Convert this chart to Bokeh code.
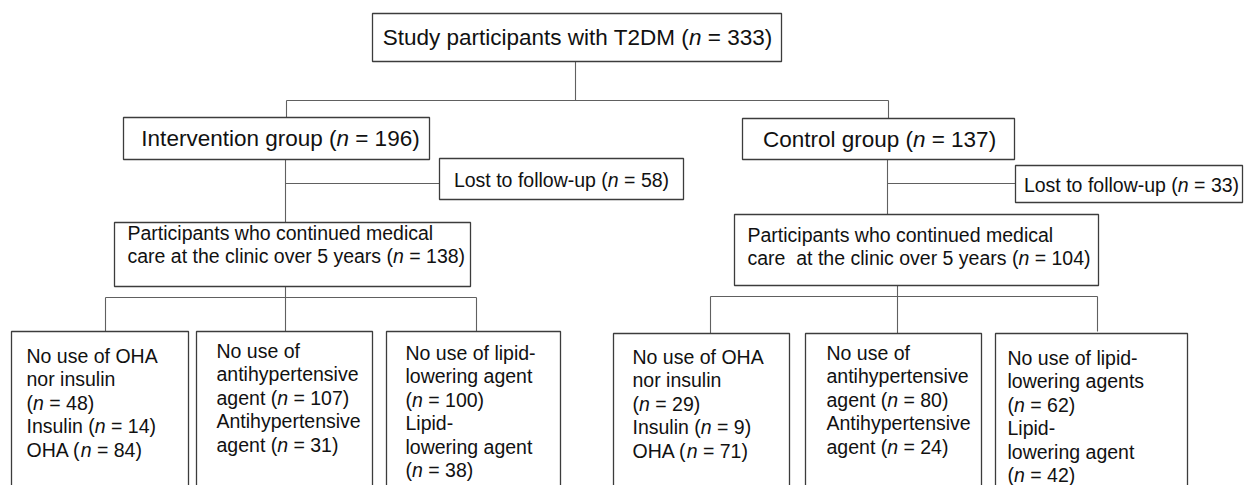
import re
from bokeh.plotting import figure
from bokeh.models import ColumnDataSource, Range1d
from bokeh.core.properties import value
from bokeh.embed import file_html
from bokeh.resources import INLINE

# ---------------- data (participant counts) ----------------
total_n = 333
group_labels = ["Intervention group", "Control group"]
group_n = [196, 137]
lost_n = [58, 33]
continued_n = [138, 104]
no_oha_insulin_n = [48, 29]
insulin_n = [14, 9]
oha_n = [84, 71]
no_antihyp_n = [107, 80]
antihyp_n = [31, 24]
no_lipid_n = [100, 62]
lipid_n = [38, 42]

# ---------------- labels built from data ----------------
top_label = [f"Study participants with T2DM (*n* = {total_n})"]
group_text = [[f"{group_labels[i]} (*n* = {group_n[i]})"] for i in range(2)]
lost_text = [[f"Lost to follow-up (*n* = {lost_n[i]})"] for i in range(2)]
cont_text = [
    ["Participants who continued medical", f"care at the clinic over 5 years (*n* = {continued_n[0]})"],
    ["Participants who continued medical", f"care  at the clinic over 5 years (*n* = {continued_n[1]})"],
]
gluc_text = [["No use of OHA", "nor insulin", f"(*n* = {no_oha_insulin_n[i]})",
              f"Insulin (*n* = {insulin_n[i]})", f"OHA (*n* = {oha_n[i]})"] for i in range(2)]
hyp_text = [["No use of", "antihypertensive", f"agent (*n* = {no_antihyp_n[i]})",
             "Antihypertensive", f"agent (*n* = {antihyp_n[i]})"] for i in range(2)]
lip_text = [["No use of lipid-", "lowering agent", f"(*n* = {no_lipid_n[0]})",
             "Lipid-", "lowering agent", f"(*n* = {lipid_n[0]})"],
            ["No use of lipid-", "lowering agents", f"(*n* = {no_lipid_n[1]})",
             "Lipid-", "lowering agent", f"(*n* = {lipid_n[1]})"]]

# ---------------- layout (page pixel coordinates) ----------------
W_PX, H_PX = 1245, 485
BIG, SMALL = 22.5, 19.5
LH = 23.5

# Arial / Liberation Sans advance widths (per 1000 em)
AW = {' ': 278, '(': 333, ')': 333, '=': 584, '-': 333,
      'A': 667, 'C': 722, 'D': 722, 'H': 722, 'I': 278, 'L': 556, 'M': 833, 'N': 722,
      'O': 778, 'P': 667, 'S': 667, 'T': 611,
      'a': 556, 'b': 556, 'c': 500, 'd': 556, 'e': 556, 'f': 278, 'g': 556, 'h': 556,
      'i': 222, 'j': 222, 'k': 500, 'l': 222, 'm': 833, 'n': 556, 'o': 556, 'p': 556,
      'q': 556, 'r': 333, 's': 500, 't': 278, 'u': 556, 'v': 500, 'w': 722, 'x': 500,
      'y': 500, 'z': 500}


def twidth(s, size):
    return sum(AW.get(c, 556) for c in s) * size / 1000.0


boxes = []      # (left, right, top, bottom)
texts = dict(x=[], y=[], text=[], style=[], size=[])


def add_line(line, x, yc, size, align="left"):
    parts = line.split("*")
    total = sum(twidth(p, size) for p in parts)
    cx = x - total / 2 if align == "center" else x
    for k, part in enumerate(parts):
        # SVG collapses runs of spaces: place each word-run separately
        for m in re.finditer(r"\S+(?: \S+)*", part):
            texts["x"].append(cx + twidth(part[:m.start()], size))
            texts["y"].append(yc)
            texts["text"].append(m.group(0))
            texts["style"].append("italic" if k % 2 else "normal")
            texts["size"].append(f"{size}px")
        cx += twidth(part, size)


def add_block(lines, x, y0, size, align="left", lh=LH):
    for j, ln in enumerate(lines):
        add_line(ln, x, y0 + j * lh, size, align)


# top box
boxes.append((372, 781, 13, 61))
add_block(top_label, 577, 37, BIG, "center")

# group boxes
grp_box = [(123, 429, 117, 159), (742, 1014, 118, 159)]
grp_cx = [280, 879]
lost_box = [(439, 683, 158, 199), (1015, 1242, 165, 202)]
lost_cx = [561, 1131]
cont_box = [(114, 470, 222, 286), (734, 1098, 214, 285)]
cont_x = [127, 747]
cont_y = [232, 234]
for i in range(2):
    boxes.append(grp_box[i])
    add_block(group_text[i], grp_cx[i], (grp_box[i][2] + grp_box[i][3]) / 2, BIG, "center")
    boxes.append(lost_box[i])
    add_block(lost_text[i], lost_cx[i], (lost_box[i][2] + lost_box[i][3]) / 2 + 0.5, SMALL, "center")
    boxes.append(cont_box[i])
    add_block(cont_text[i], cont_x[i], cont_y[i], SMALL, lh=23)

# bottom boxes
bot_box = [[(11, 188, 331, 520), (196, 372, 331, 520), (386, 560, 331, 520)],
           [(613, 789, 333, 520), (805, 981, 333, 520), (995, 1187, 333, 520)]]
bot_tx = [[26, 216, 405], [632, 826, 1007]]
bot_ty = [[355, 350, 352], [356, 352, 357]]
for i in range(2):
    blocks = [gluc_text[i], hyp_text[i], lip_text[i]]
    for j in range(3):
        boxes.append(bot_box[i][j])
        add_block(blocks[j], bot_tx[i][j], bot_ty[i][j], SMALL)

# connectors (x0, y0, x1, y1)
seg = [
    (575, 61, 575, 100), (286, 100, 888, 100), (286, 100, 286, 117), (888, 100, 888, 118),
    (285, 159, 285, 222), (285, 183, 439, 183),
    (887, 159, 887, 214), (887, 183, 1015, 183),
    (285, 286, 285, 331), (105, 297, 476, 297), (105, 297, 105, 331), (476, 297, 476, 331),
    (897, 285, 897, 333), (710, 296, 1097, 296), (710, 296, 710, 333), (1097, 296, 1097, 331),
]

# ---------------- figure ----------------
p = figure(width=W_PX, height=H_PX, output_backend="svg", toolbar_location=None,
           x_range=Range1d(0, W_PX), y_range=Range1d(H_PX, 0),
           x_axis_type=None, y_axis_type=None, min_border=0)
p.grid.visible = False
p.outline_line_color = None
p.background_fill_color = "white"
p.border_fill_color = "white"

p.segment(x0=[s[0] for s in seg], y0=[s[1] for s in seg],
          x1=[s[2] for s in seg], y1=[s[3] for s in seg],
          line_color="#606060", line_width=1.1)

p.quad(left=[b[0] for b in boxes], right=[b[1] for b in boxes],
       top=[b[2] for b in boxes], bottom=[b[3] for b in boxes],
       fill_color="white", line_color="#3c3c3c", line_width=1.3)

src = ColumnDataSource(texts)
p.text(x="x", y="y", text="text", source=src, text_font=value("Liberation Sans"),
       text_font_style="style", text_font_size="size", text_color="#111111",
       text_align="left", text_baseline="middle")

open("out.html", "w").write(file_html(p, INLINE))
